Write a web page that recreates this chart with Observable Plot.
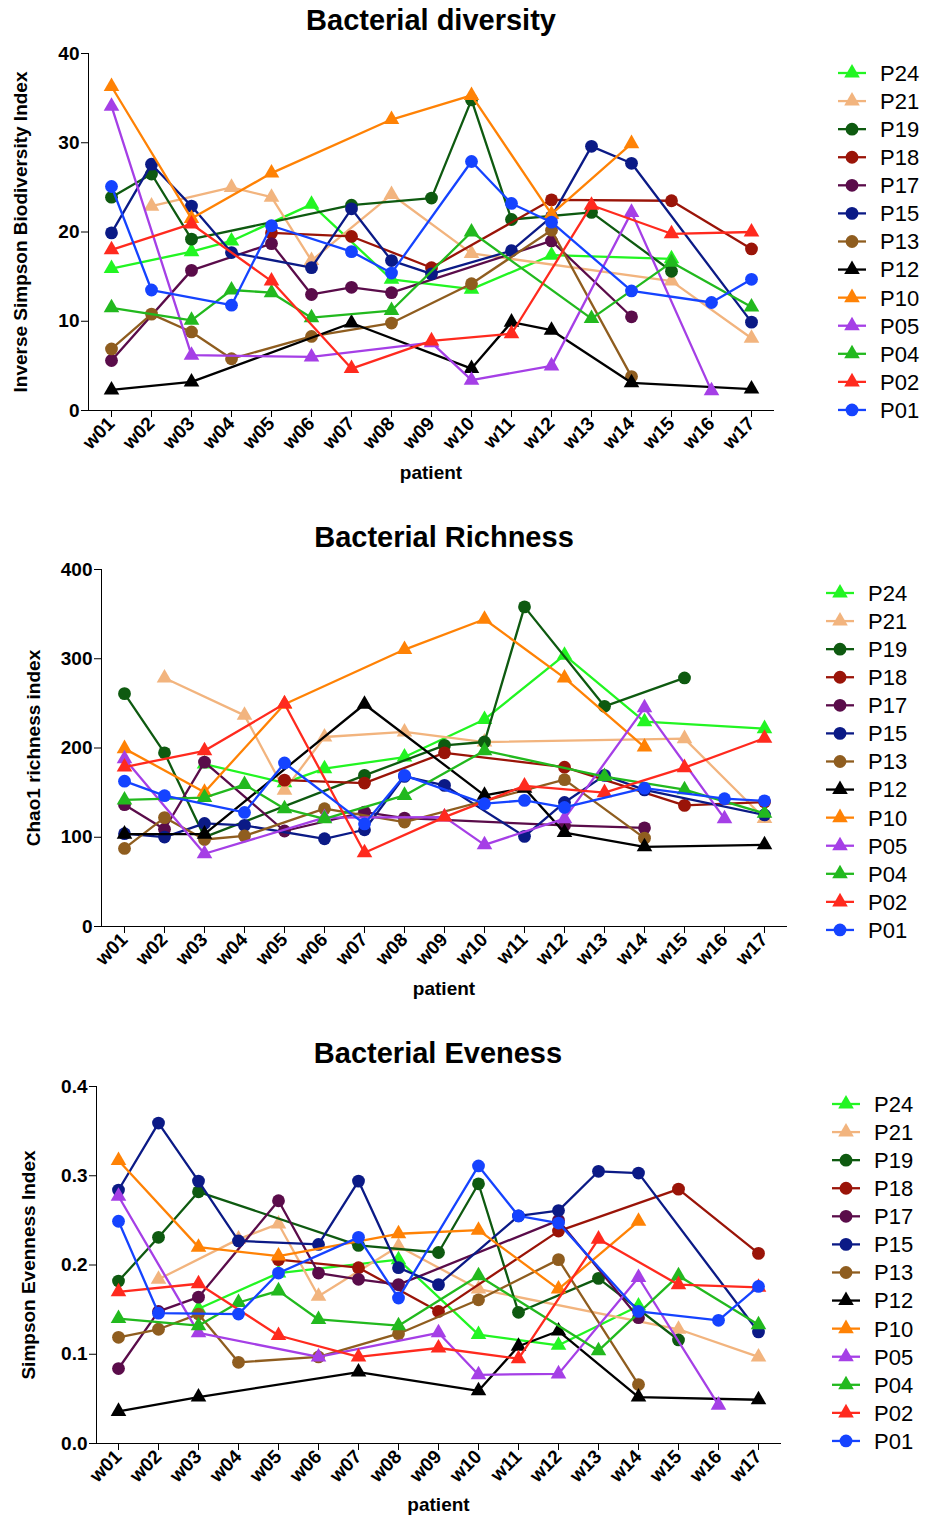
<!DOCTYPE html>
<html><head><meta charset="utf-8">
<script src="https://cdn.jsdelivr.net/npm/d3@7"></script>
<script src="https://cdn.jsdelivr.net/npm/@observablehq/plot@0.6"></script>
<style>
body{margin:0;background:#fff;font-family:"Liberation Sans",Arial,sans-serif;}
#root{position:relative;width:928px;height:1524px;overflow:hidden;}
.title{position:absolute;font-weight:bold;font-size:29px;height:34px;line-height:34px;transform:translateX(-50%);white-space:nowrap;color:#000;}
.panel{position:absolute;left:0;}
.legend{position:absolute;left:0;}
</style></head><body><div id="root"></div>
<script>
// ---------- categories ----------
const weeks = ["w01","w02","w03","w04","w05","w06","w07","w08","w09","w10","w11","w12","w13","w14","w15","w16","w17"];
const patients = ["P24","P21","P19","P18","P17","P15","P13","P12","P10","P05","P04","P02","P01"];
const patientColors = ["#22f522","#f2b47e","#0e5a10","#9a1408","#5a0c4a","#0b1a86","#8f5d1f","#000000","#ff8205","#a53fe6","#22b91e","#ff2a1e","#1543ff"];
const patientSymbols = ["triangle","triangle","circle","circle","circle","circle","circle","triangle","triangle","triangle","triangle","triangle","circle"];

// ---------- Bacterial diversity (Inverse Simpson) ----------
const diversityP24 = [15.9,null,17.8,19.0,null,23.1,null,14.7,null,13.6,null,17.4,null,null,17.0,null,null];
const diversityP21 = [null,22.9,null,25.0,23.9,16.8,null,24.2,null,17.6,null,null,null,null,14.5,null,8.1];
const diversityP19 = [23.9,26.5,19.2,null,null,null,23.0,null,23.8,34.8,21.4,null,22.2,null,15.6,null,null];
const diversityP18 = [null,null,null,null,19.9,null,19.5,null,16.0,null,null,23.6,null,null,23.5,null,18.1];
const diversityP17 = [5.6,null,15.7,null,18.7,13.0,13.8,13.2,null,null,null,19.0,null,10.5,null,null,null];
const diversityP15 = [19.9,27.6,22.9,17.7,null,16.0,22.6,16.8,15.3,null,17.9,21.7,29.6,27.7,null,null,9.9];
const diversityP13 = [6.9,10.8,8.8,5.8,null,8.3,null,9.8,null,14.2,null,20.2,null,3.8,null,null,null];
const diversityP12 = [2.3,null,3.2,null,null,null,9.8,null,null,4.7,9.9,9.0,null,3.1,null,null,2.4];
const diversityP10 = [36.3,null,21.5,null,26.6,null,null,32.6,null,35.3,null,22.0,null,29.9,null,null,null];
const diversityP05 = [34.1,null,6.2,null,null,6.0,null,null,7.6,3.4,null,5.0,null,22.2,null,2.2,null];
const diversityP04 = [11.5,null,10.1,13.5,13.2,10.4,null,11.2,null,20.0,null,null,10.3,null,16.6,null,11.6];
const diversityP02 = [18.0,null,20.9,null,14.5,null,4.7,null,7.8,null,8.6,null,23.0,null,19.8,null,20.0];
const diversityP01 = [25.1,13.5,null,11.8,20.7,null,17.8,15.4,null,27.9,23.2,21.1,null,13.4,null,12.1,14.7];

// ---------- Bacterial richness (Chao1) ----------
const richnessP24 = [null,null,182,null,161,176.8,null,189.9,null,232,null,304,null,229.5,null,null,221.7];
const richnessP21 = [null,278.5,null,236.6,152.8,212.3,null,218,null,206.7,null,null,null,null,210.5,null,121];
const richnessP19 = [260.9,194.6,100.2,null,null,null,169.3,null,203,206.7,358.1,null,246.7,null,278.5,null,null];
const richnessP18 = [null,null,null,null,164,null,160.7,null,194.6,null,null,178.5,null,null,135.7,null,139.4];
const richnessP17 = [136.5,109,184.2,null,107,null,128.2,121.5,null,null,null,113.2,null,110.5,null,null,null];
const richnessP15 = [104,100.2,115.5,113.3,null,98.3,108.4,168.2,158.1,null,101,139,169.3,153,null,null,125];
const richnessP13 = [87.5,122,97.5,101.5,null,132,null,117,null,null,null,164.5,null,99,null,null,null];
const richnessP12 = [103.5,null,103.5,null,null,null,249,null,null,147,155,105.2,null,89.3,null,null,91.5];
const richnessP10 = [199.3,null,150.5,null,249,null,null,310.3,null,344.3,null,278.5,null,201,null,null,null];
const richnessP05 = [188,null,81.5,null,null,122,null,null,122.6,91.5,null,120.8,null,245,null,120.8,null];
const richnessP04 = [141.8,null,144.5,159,132,120.7,null,146.9,null,197,null,null,168,null,153.3,null,126.8];
const richnessP02 = [178.7,null,196.8,null,249.5,null,82.6,null,122.6,null,157.5,null,150,null,178,null,211];
const richnessP01 = [162.8,146.6,null,127.8,183.2,null,115,169.3,null,137.6,141.3,133.4,null,155,null,143.2,140.8];

// ---------- Bacterial evenness (Simpson) ----------
const evennessP24 = [null,null,0.151,null,0.191,null,null,0.206,null,0.122,null,0.110,null,0.154,null,null,null];
const evennessP21 = [null,0.184,null,0.229,0.246,0.165,null,0.221,null,0.173,null,null,null,null,0.128,null,0.097];
const evennessP19 = [0.182,0.231,0.282,null,null,null,0.222,null,0.214,0.291,0.147,null,0.185,null,0.116,null,null];
const evennessP18 = [null,null,null,null,0.206,null,0.197,null,0.148,null,null,0.238,null,null,0.285,null,0.213];
const evennessP17 = [0.084,0.148,0.164,null,0.272,0.191,0.184,0.178,null,null,null,0.250,null,0.141,null,null,null];
const evennessP15 = [0.284,0.359,0.294,0.227,null,0.223,0.294,0.197,0.178,null,0.255,0.261,0.305,0.303,null,null,0.125];
const evennessP13 = [0.119,0.128,0.145,0.091,null,0.097,null,0.123,null,0.161,null,0.206,null,0.066,null,null,null];
const evennessP12 = [0.036,null,0.052,null,null,null,0.080,null,null,0.059,0.109,0.126,null,0.052,null,null,0.049];
const evennessP10 = [0.317,null,0.220,null,0.210,null,null,0.235,null,0.239,null,0.173,null,0.249,null,null,null];
const evennessP05 = [0.277,null,0.124,null,null,0.097,null,null,0.124,0.077,null,0.078,null,0.186,null,0.043,null];
const evennessP04 = [0.140,null,0.132,0.158,0.171,0.139,null,0.132,null,0.188,null,null,0.104,null,0.188,null,0.133];
const evennessP02 = [0.170,null,0.179,null,0.121,null,0.097,null,0.107,null,0.095,null,0.229,null,0.178,null,0.175];
const evennessP01 = [0.249,0.146,null,0.145,0.191,null,0.231,0.163,null,0.311,0.255,0.247,null,0.148,null,0.138,0.176];

// ---------- axis tick values ----------
const diversityTicks = [0,10,20,30,40];
const richnessTicks = [0,100,200,300,400];
const evennessTicks = [0,0.1,0.2,0.3,0.4];

// ---------- panel setup ----------
const panels = [
  {title:"Bacterial diversity", ylabel:"Inverse Simpson Biodiversity Index",
   series:[diversityP24,diversityP21,diversityP19,diversityP18,diversityP17,diversityP15,diversityP13,diversityP12,diversityP10,diversityP05,diversityP04,diversityP02,diversityP01],
   ticks:diversityTicks, fmt:d3.format("d"),
   top:40, height:460, mt:13, mb:90, ml:88, mr:155, titleX:431, titleY:20, legX:838, legY:73, yOff:68, xOff:68},
  {title:"Bacterial Richness", ylabel:"Chao1 richness index",
   series:[richnessP24,richnessP21,richnessP19,richnessP18,richnessP17,richnessP15,richnessP13,richnessP12,richnessP10,richnessP05,richnessP04,richnessP02,richnessP01],
   ticks:richnessTicks, fmt:d3.format("d"),
   top:556, height:460, mt:13, mb:90, ml:101, mr:142, titleX:444, titleY:537, legX:826, legY:593, yOff:68, xOff:68},
  {title:"Bacterial Eveness", ylabel:"Simpson Evenness Index",
   series:[evennessP24,evennessP21,evennessP19,evennessP18,evennessP17,evennessP15,evennessP13,evennessP12,evennessP10,evennessP05,evennessP04,evennessP02,evennessP01],
   ticks:evennessTicks, fmt:d3.format(".1f"),
   top:1073, height:451, mt:13, mb:81, ml:96, mr:148, titleX:438, titleY:1053, legX:832, legY:1104, yOff:68, xOff:67}
];

const root = document.getElementById("root");
const FONT = "Liberation Sans, Arial, sans-serif";
const symR = s => s === "circle" ? 6.4 : 5.8;

for (const p of panels) {
  const t = document.createElement("div");
  t.className = "title";
  t.textContent = p.title;
  t.style.left = p.titleX + "px";
  t.style.top = (p.titleY - 17) + "px";
  root.appendChild(t);

  const marks = [];
  patients.forEach((pt, i) => {
    const rows = weeks.map((w, j) => ({patient: pt, week: w, value: p.series[i][j]})).filter(d => d.value != null);
    marks.push(Plot.line(rows, {x: "week", y: "value", stroke: patientColors[i], strokeWidth: 2.3}));
    marks.push(Plot.dot(rows, {x: "week", y: "value", symbol: patientSymbols[i], fill: patientColors[i], stroke: "none", r: symR(patientSymbols[i])}));
  });
  marks.push(Plot.text([p.ylabel], {frameAnchor: "left", textAnchor: "middle", rotate: -90, dx: -p.yOff, fontSize: 19, fontWeight: "bold", fill: "#000"}));
  marks.push(Plot.text(["patient"], {frameAnchor: "bottom", textAnchor: "middle", dy: p.xOff, fontSize: 19, fontWeight: "bold", fill: "#000"}));

  const chart = Plot.plot({
    width: 928, height: p.height,
    marginTop: p.mt, marginBottom: p.mb, marginLeft: p.ml, marginRight: p.mr,
    style: {fontFamily: FONT, fontSize: "19px", fontWeight: "bold", color: "#000", background: "transparent", overflow: "visible"},
    x: {type: "point", domain: weeks, padding: 0.5, tickRotate: -45, tickSize: 7, tickPadding: 3, label: null, line: true},
    y: {domain: [p.ticks[0], p.ticks[p.ticks.length - 1]], ticks: p.ticks, tickFormat: p.fmt, tickSize: 7, tickPadding: 2, label: null, line: true},
    marks
  });
  const wrap = document.createElement("div");
  wrap.className = "panel";
  wrap.style.top = p.top + "px";
  wrap.appendChild(chart);
  root.appendChild(wrap);

  // legend
  const step = 28.08;
  const lg = d3.select(root).append("svg")
    .attr("class", "legend")
    .attr("width", 928).attr("height", 400)
    .style("top", (p.legY - 20) + "px")
    .style("font-family", FONT);
  patients.forEach((pt, i) => {
    const y = 20 + i * step;
    const g = lg.append("g");
    g.append("line").attr("x1", p.legX).attr("x2", p.legX + 28).attr("y1", y).attr("y2", y)
      .attr("stroke", patientColors[i]).attr("stroke-width", 2.3);
    const sym = patientSymbols[i] === "circle" ? d3.symbolCircle : d3.symbolTriangle;
    const r = symR(patientSymbols[i]);
    g.append("path").attr("d", d3.symbol(sym, Math.PI * r * r)())
      .attr("transform", `translate(${p.legX + 14},${y})`).attr("fill", patientColors[i]);
    g.append("text").attr("x", p.legX + 42).attr("y", y).attr("dy", "0.36em")
      .attr("font-size", 22).attr("fill", "#000").text(pt);
  });
}
</script></body></html>
